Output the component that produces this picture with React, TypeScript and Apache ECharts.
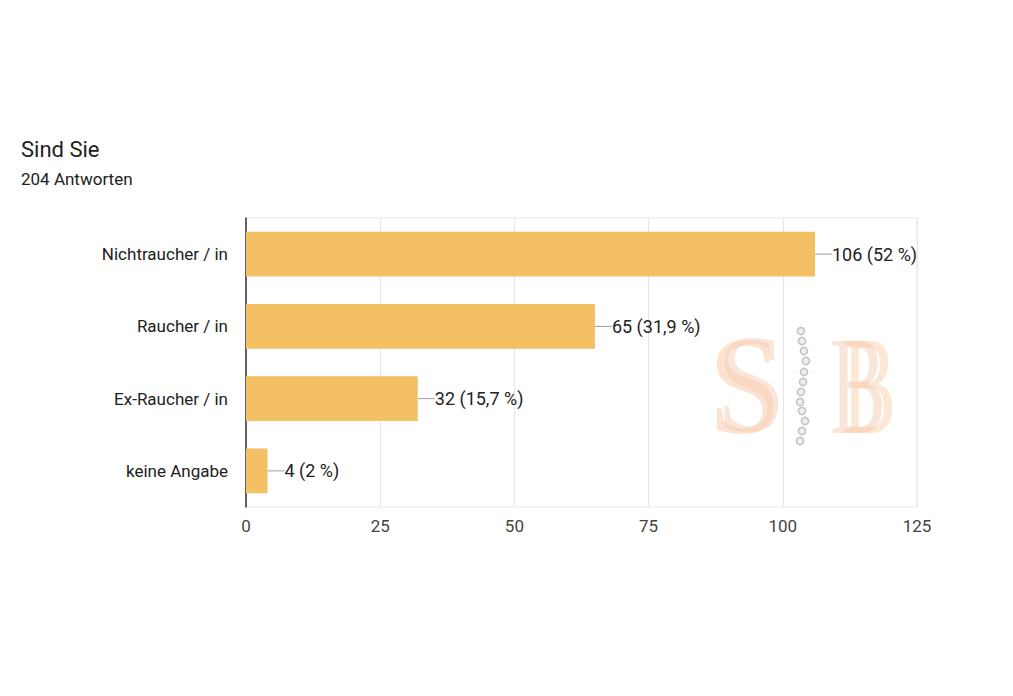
import React, { useEffect, useRef } from "react";
import * as echarts from "echarts";

const categories = ["Nichtraucher / in", "Raucher / in", "Ex-Raucher / in", "keine Angabe"];
const counts = [106, 65, 32, 4];
const percents = ["52", "31,9", "15,7", "2"];
const titleText = "Sind Sie";
const subtitleText = "204 Antworten";
const xTicks = [0, 25, 50, 75, 100, 125];

const dotXs = [801, 802, 804, 806, 804, 803, 801, 800, 802, 805, 802, 800];
const dotYs = [331, 341, 351, 361, 372, 382, 392, 402, 411, 421, 431, 441];

export default function App() {
  const ref = useRef<HTMLDivElement>(null);
  useEffect(() => {
    const chart = echarts.init(ref.current!, null, { renderer: "svg" });
    const font = "Roboto, Arial, sans-serif";
    const serif = "'Liberation Serif', 'DejaVu Serif', serif";
    const dots = dotXs.map((x, i) => ({
      type: "circle",
      shape: { cx: x, cy: dotYs[i], r: 3.6 },
      style: { fill: "#eeeeee", stroke: "#c4c4c4", lineWidth: 1.6 },
      z: 1,
    }));
    const letter = (t: string, x: number, y: number, sx: number, fill: string) => ({
      type: "text",
      x,
      y,
      scaleX: sx,
      style: {
        text: t,
        fontFamily: serif,
        fontSize: 140,
        fontWeight: "normal",
        fill,
        align: "left",
        verticalAlign: "middle",
      },
      z: 0,
    });
    chart.setOption({
      animation: false,
      backgroundColor: "#ffffff",
      title: {
        text: titleText,
        subtext: subtitleText,
        left: 16,
        top: 133,
        itemGap: 10,
        textStyle: { fontFamily: font, fontSize: 22, fontWeight: "normal", color: "#212121" },
        subtextStyle: { fontFamily: font, fontSize: 17, color: "#212121" },
      },
      grid: {
        left: 246,
        right: 96,
        top: 218,
        bottom: 189,
        show: true,
        borderColor: "#e8e8e8",
        borderWidth: 1,
      },
      xAxis: {
        type: "value",
        min: 0,
        max: 125,
        interval: 25,
        axisLine: { show: false },
        axisTick: { show: false },
        splitLine: { show: true, lineStyle: { color: "#e6e6e6", width: 1 } },
        axisLabel: {
          fontFamily: font,
          fontSize: 17,
          color: "#444",
          margin: 10,
          formatter: (v: number) => (xTicks.includes(v) ? String(v) : ""),
        },
      },
      yAxis: {
        type: "category",
        data: categories,
        inverse: true,
        axisLine: { show: true, lineStyle: { color: "#333", width: 1.5 } },
        axisTick: { show: false },
        axisLabel: { fontFamily: font, fontSize: 17, color: "#222", margin: 18 },
      },
      graphic: [
        letter("S", 708, 386, 0.95, "rgba(250,200,160,0.5)"),
        letter("S", 716, 384, 0.9, "rgba(246,208,185,0.55)"),
        letter("B", 830, 386, 0.6, "rgba(246,208,185,0.55)"),
        letter("B", 842, 386, 0.58, "rgba(250,195,150,0.4)"),
        ...dots,
      ],
      series: [
        {
          type: "bar",
          data: counts,
          barWidth: "62%",
          itemStyle: { color: "#f4c064" },
          z: 3,
          label: {
            show: true,
            position: "right",
            distance: 0,
            formatter: (p: any) => `{l|}{t|${counts[p.dataIndex]} (${percents[p.dataIndex]} %)}`,
            rich: {
              l: { width: 17, height: 1, backgroundColor: "#9e9e9e" },
              t: { fontFamily: font, fontSize: 18, color: "#222" },
            },
          },
        },
      ],
    });
    return () => chart.dispose();
  }, []);
  return <div ref={ref} style={{ width: 1013, height: 696, position: "absolute", left: 0, top: 0 }} />;
}
